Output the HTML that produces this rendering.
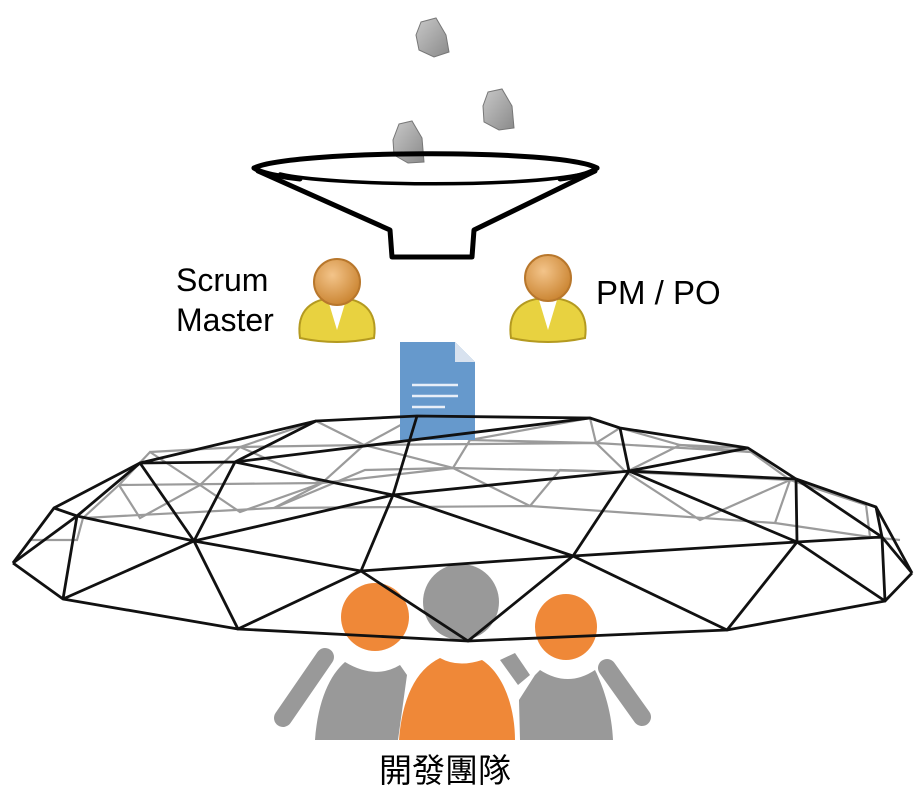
<!DOCTYPE html>
<html><head><meta charset="utf-8"><style>
html,body{margin:0;padding:0;background:#fff;}
svg{display:block}
</style></head><body>
<svg width="924" height="796" viewBox="0 0 924 796" xmlns="http://www.w3.org/2000/svg">
<defs>
<radialGradient id="hg" cx="0.4" cy="0.35" r="0.7"><stop offset="0" stop-color="#f3c48a"/><stop offset="1" stop-color="#c9822e"/></radialGradient>
<linearGradient id="rk" x1="0" y1="0" x2="1" y2="1"><stop offset="0" stop-color="#c8c8c8"/><stop offset="1" stop-color="#8a8a8a"/></linearGradient>
</defs>

<!-- rocks -->
<path d="M421,22 L436,18 L446,35 L449,52 L434,57 L419,50 L416,35 Z" fill="url(#rk)" stroke="#777" stroke-width="1"/>
<path d="M488,92 L502,89 L512,106 L514,128 L499,130 L484,122 L483,106 Z" fill="url(#rk)" stroke="#777" stroke-width="1"/>
<path d="M399,124 L412,121 L422,138 L424,162 L408,163 L394,155 L393,140 Z" fill="url(#rk)" stroke="#777" stroke-width="1"/>

<!-- funnel -->
<g fill="none" stroke="#000" stroke-linecap="round" stroke-linejoin="round">
<path d="M254,168 C290,150 560,148 597,168" stroke-width="5"/>
<path d="M254,168 C262,174 290,178 300,179" stroke-width="5"/>
<path d="M597,168 C590,174 570,178 560,179" stroke-width="5"/>
<path d="M280,174 C330,186 520,188 583,174" stroke-width="3.5"/>
<path d="M258,171 L390,230 L392,257 L472,257 L474,230 L595,171" stroke-width="5"/>
</g>

<!-- users -->
<g>
<path d="M300,338 C296,310 312,298 337,298 C362,298 378,310 374,338 Q337,346 300,338 Z" fill="#e8d240" stroke="#b49a20" stroke-width="2"/>
<path d="M328,300 L337,330 L346,300 Z" fill="#fff"/>
<circle cx="337" cy="282" r="23" fill="url(#hg)" stroke="#b8772c" stroke-width="2"/>
<path d="M511,338 C507,310 523,298 548,298 C573,298 589,310 585,338 Q548,346 511,338 Z" fill="#e8d240" stroke="#b49a20" stroke-width="2"/>
<path d="M539,300 L548,330 L557,300 Z" fill="#fff"/>
<circle cx="548" cy="278" r="23" fill="url(#hg)" stroke="#b8772c" stroke-width="2"/>
</g>
<text x="176" y="291" font-family="Liberation Sans, sans-serif" font-size="32" fill="#000">Scrum</text>
<text x="176" y="331" font-family="Liberation Sans, sans-serif" font-size="32" fill="#000">Master</text>
<text x="596" y="304" font-family="Liberation Sans, sans-serif" font-size="33" fill="#000">PM / PO</text>

<!-- people -->
<g>
<line x1="325" y1="657" x2="283" y2="718" stroke="#999" stroke-width="18" stroke-linecap="round"/>
<line x1="607" y1="668" x2="642" y2="717" stroke="#999" stroke-width="18" stroke-linecap="round"/>
<path d="M500,660 L518,685 L530,675 L515,653 Z" fill="#999"/>
<path d="M315,740 C318,700 330,675 345,662 Q375,680 400,665 L407,675 L398,740 Z" fill="#999"/>
<path d="M520,740 L519,700 L535,675 L540,670 Q568,688 595,670 C605,690 612,715 613,740 Z" fill="#999"/>
<path d="M399,740 C402,700 415,670 440,658 Q458,668 482,660 C505,675 515,710 515,740 Z" fill="#ef8838"/>
<circle cx="375" cy="617" r="34" fill="#ef8838"/>
<circle cx="461" cy="602" r="38" fill="#999"/>
<ellipse cx="566" cy="627" rx="31" ry="33" fill="#ef8838"/>
</g>

<!-- dome back (gray) -->
<g fill="none" stroke="#8a8a8a" stroke-width="2.2" opacity="0.85">
<polyline points="83,518 274,508 530,506 775,523 870,537"/>
<polyline points="119,485 322,483 453,468 626,472 790,480 866,505"/>
<polyline points="150,452 240,447 364,445 596,443 751,452"/>
<polyline points="83,518 119,485 140,518 200,485 240,512 322,483 274,508 365,470 453,468 530,506 560,470 626,472 700,520 790,480 775,523"/>
<polyline points="119,485 150,452 200,485 240,447 322,483 364,445 453,468 470,440 596,443 626,472 680,445 751,452 790,480"/>
<polyline points="240,447 316,421 364,445 417,416 470,440 590,418 596,443 620,428 680,445 748,448"/>
<polyline points="54,508 83,518 77,540 30,540"/>
<polyline points="866,505 870,537 900,540"/>
</g>

<!-- document -->
<path d="M400,342 L455,342 L475,362 L475,440 L400,440 Z" fill="#6699cc"/>
<path d="M455,342 L455,362 L475,362 Z" fill="#d8e2ef"/>
<g stroke="#e8eff8" stroke-width="2.5"><line x1="412" y1="385" x2="458" y2="385"/><line x1="412" y1="396" x2="458" y2="396"/><line x1="412" y1="407" x2="445" y2="407"/></g>

<!-- dome front (black) -->
<g fill="none" stroke="#111" stroke-width="2.8" stroke-linejoin="round">
<polyline points="13,563 63,599 238,629 468,641 727,630 885,601 912,573"/>
<polyline points="77,516 194,541 361,571 573,556 797,542 882,537"/>
<polyline points="54,508 140,463 235,462 316,421 417,416 590,418 620,428 748,448 796,479 876,507 912,573"/>
<polyline points="13,563 54,508 77,516 63,599"/>
<polyline points="13,563 77,516"/>
<polyline points="63,599 194,541 238,629 361,571 468,641 573,556 727,630 797,542 885,601 882,537 912,573"/>
<polyline points="77,516 140,463 194,541 235,462"/>
<polyline points="194,541 393,495 361,571"/>
<polyline points="393,495 573,556 629,471 797,542 796,479 882,537"/>
<polyline points="235,462 393,495 629,471 796,479"/>
<polyline points="393,495 417,416"/>
<polyline points="235,462 590,418"/>
<polyline points="629,471 620,428"/>
<polyline points="629,471 748,448"/>
<polyline points="140,463 316,421"/>
<polyline points="876,507 882,537"/>
</g>

<text x="445" y="782" text-anchor="middle" font-family="Liberation Sans, 'Noto Sans CJK TC', sans-serif" font-size="33" fill="#000">開發團隊</text>
</svg>
</body></html>
